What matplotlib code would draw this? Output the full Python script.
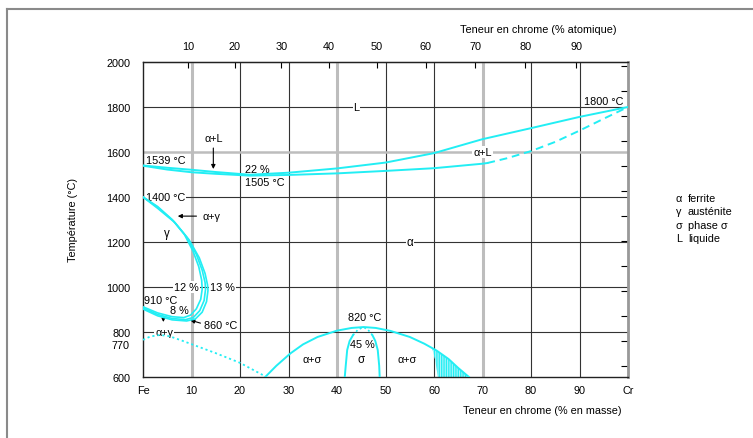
import numpy as np
import matplotlib
matplotlib.use('Agg')
import matplotlib.pyplot as plt
from matplotlib.lines import Line2D

plt.rcParams['font.family'] = ['Liberation Sans', 'DejaVu Sans']
plt.rcParams['hatch.linewidth'] = 0.9

CYAN = '#22EEF4'

# liquidus / solidus (mass % Cr, temperature in C)
liq_x = [0, 5, 10, 15, 22, 30, 40, 50, 60, 70, 80, 90, 100]
liq_t = [1540, 1530, 1521, 1511, 1499, 1508, 1527, 1553, 1595, 1657, 1706, 1756, 1800]
sol_x = [0, 5, 10, 15, 22, 30, 40, 50, 60, 70, 71]
sol_t = [1539, 1522, 1510, 1503, 1495, 1498, 1505, 1516, 1528, 1548, 1551]
sol_dash_x = [71, 75, 80, 85, 90, 95, 100]
sol_dash_t = [1551, 1572, 1604, 1645, 1695, 1748, 1800]

# gamma loop boundaries
g1_x = [0, 3, 6, 8.5, 10.3, 11.5, 12.1, 12.2, 11.9, 11.0, 9.8, 8.4, 6.0, 3.0, 0]
g1_t = [1400, 1358, 1300, 1235, 1160, 1090, 1030, 990, 945, 903, 875, 864, 868, 885, 912]
g2_x = [0, 3, 6.3, 9.0, 11.0, 12.2, 12.8, 12.9, 12.6, 11.7, 10.4, 8.8, 6.0, 3.0, 0]
g2_t = [1400, 1354, 1293, 1222, 1145, 1075, 1020, 990, 940, 895, 865, 855, 860, 878, 907]
g3_x = [0, 3, 6.6, 9.5, 11.6, 12.8, 13.3, 13.4, 13.1, 12.2, 10.8, 9.0, 6.0, 3.0, 0]
g3_t = [1400, 1350, 1286, 1210, 1130, 1060, 1010, 985, 935, 888, 858, 849, 854, 872, 902]

# Curie line (dotted)
curie_x = [0, 1.5, 3.5, 5.5, 8, 10, 15, 20, 25.2]
curie_t = [765, 780, 787, 781, 762, 746, 706, 663, 603]

# sigma domain
dome_x = [25.2, 27.5, 30.4, 33, 36, 40, 43, 45.5, 48, 51, 55, 58, 60.5, 63, 65, 67.2]
dome_t = [600, 650, 705, 745, 778, 806, 818, 822, 818, 805, 778, 748, 718, 680, 640, 600]
sl_x = [41.6, 41.8, 42.1, 42.6, 43.3]
sl_t = [600, 650, 720, 760, 786]
sl_dot_x = [43.3, 44.3, 45.3]
sl_dot_t = [786, 810, 820]
sr_x = [48.8, 48.7, 48.4, 47.9, 47.3]
sr_t = [600, 650, 720, 760, 786]
sr_dot_x = [47.3, 46.4, 45.6]
sr_dot_t = [786, 810, 820]
hatch_x = [59.6, 60.5, 63, 65, 67.2, 60.8, 60.2]
hatch_t = [730, 718, 680, 640, 600, 600, 680]

y_ticks = [600, 800, 1000, 1200, 1400, 1600, 1800, 2000]
x_ticks = [0, 10, 20, 30, 40, 50, 60, 70, 80, 90, 100]
x_labels = ['Fe', '10', '20', '30', '40', '50', '60', '70', '80', '90', 'Cr']
at_ticks = [10, 20, 30, 40, 50, 60, 70, 80, 90]

fig = plt.figure(figsize=(7.53, 4.39), dpi=100)
ax = fig.add_axes([143/753, 1-378/439, 485/753, 315/439])
ax.set_xlim(0, 100)
ax.set_ylim(600, 2000)

# grid drawn by hand (some lines gray and thicker)
for gx in range(10, 100, 10):
    if gx in (10, 40, 70):
        ax.axvline(gx, color='#bdbdbd', lw=2.2, zorder=1)
    else:
        ax.axvline(gx, color='#333333', lw=0.8, zorder=1)
for gy in range(800, 2000, 200):
    if gy == 1600:
        ax.axhline(gy, color='#bdbdbd', lw=1.8, zorder=1)
    else:
        ax.axhline(gy, color='#333333', lw=0.8, zorder=1)

for s in ['left', 'top', 'bottom']:
    ax.spines[s].set_linewidth(1.0)
    ax.spines[s].set_color('#222222')
ax.spines['right'].set_linewidth(2.0)
ax.spines['right'].set_color('#999999')

fs_tick = 7.8
ax.set_yticks(y_ticks)
ax.set_yticklabels([str(v) for v in y_ticks])
ax.set_xticks(x_ticks)
ax.set_xticklabels(x_labels)
ax.tick_params(axis='y', length=0, pad=9, labelsize=fs_tick)
ax.tick_params(axis='x', length=0, pad=5.5, labelsize=fs_tick)
# 770 is written a bit below its true place, as in the source figure
ax.text(-0.027, 744, '770', transform=ax.get_yaxis_transform(), fontsize=fs_tick,
        ha='right', va='center')

# top axis: atomic percent
def m2a(w):
    w = np.asarray(w, dtype=float)
    return 100 * (w / 52.0) / (w / 52.0 + (100 - w) / 55.85)

def a2m(a):
    a = np.asarray(a, dtype=float)
    return 100 * 52.0 * a / (52.0 * a + 55.85 * (100 - a))

top = ax.secondary_xaxis('top', functions=(m2a, a2m))
top.set_xticks(at_ticks)
top.tick_params(direction='in', length=4, width=0.8, pad=8, labelsize=fs_tick)

# right axis: Fahrenheit ticks, no labels
right = ax.secondary_yaxis('right', functions=(lambda c: c * 9 / 5 + 32, lambda f: (f - 32) * 5 / 9))
right.set_yticks(list(range(1200, 3800, 200)))
right.set_yticklabels([])
right.tick_params(direction='in', length=5, width=0.8)

lw = 1.4
zc = 5
ax.plot(liq_x, liq_t, color=CYAN, lw=lw, zorder=zc)
ax.plot(sol_x, sol_t, color=CYAN, lw=lw, zorder=zc)
ax.plot(sol_dash_x, sol_dash_t, color=CYAN, lw=lw, ls=(0, (4, 2.5)), zorder=zc)
for gx_, gt_ in [(g1_x, g1_t), (g2_x, g2_t), (g3_x, g3_t)]:
    ax.plot(gx_, gt_, color=CYAN, lw=1.2, zorder=zc)
ax.plot(curie_x, curie_t, color=CYAN, lw=1.3, ls=(0, (1.2, 1.6)), zorder=zc)
ax.plot(dome_x, dome_t, color=CYAN, lw=lw, zorder=zc)
ax.plot(sl_x, sl_t, color=CYAN, lw=lw, zorder=zc)
ax.plot(sl_dot_x, sl_dot_t, color=CYAN, lw=1.2, ls=(0, (1.2, 1.6)), zorder=zc)
ax.plot(sr_x, sr_t, color=CYAN, lw=lw, zorder=zc)
ax.plot(sr_dot_x, sr_dot_t, color=CYAN, lw=1.2, ls=(0, (1.2, 1.6)), zorder=zc)
ax.fill(hatch_x, hatch_t, facecolor='#a8f6fa', edgecolor=CYAN, hatch='|||||||', lw=0, zorder=2)

fs = 7.8
wb = dict(facecolor='white', edgecolor='none', pad=0.6)
arr = dict(arrowstyle='-|>', color='black', lw=0.8, mutation_scale=6)
ax.text(44, 1800, 'L', fontsize=fs, ha='center', va='center', bbox=wb, zorder=4)
ax.text(99, 1826, '1800 °C', fontsize=fs, ha='right', va='center', zorder=4)
ax.text(14.5, 1660, 'α+L', fontsize=fs, ha='center', va='center', zorder=4)
ax.annotate('', xy=(14.5, 1512), xytext=(14.5, 1630), arrowprops=arr, zorder=4)
ax.text(70, 1600, 'α+L', fontsize=fs, ha='center', va='center', bbox=wb, zorder=4)
ax.text(0.6, 1566, '1539 °C', fontsize=fs, ha='left', va='center', zorder=4)
ax.text(21.1, 1523, '22 %', fontsize=fs, ha='left', va='center', zorder=4)
ax.text(21.1, 1465, '1505 °C', fontsize=fs, ha='left', va='center', zorder=4)
ax.text(0.6, 1400, '1400 °C', fontsize=fs, ha='left', va='center', bbox=wb, zorder=4)
ax.text(12.2, 1315, 'α+γ', fontsize=fs, ha='left', va='center', zorder=4)
ax.annotate('', xy=(6.6, 1315), xytext=(11.6, 1315), arrowprops=arr, zorder=4)
ax.text(5, 1240, 'γ', fontsize=fs + 0.5, ha='center', va='center', zorder=4)
ax.text(55, 1200, 'α', fontsize=fs + 0.5, ha='center', va='center', bbox=wb, zorder=4)
ax.text(9.0, 1000, '12 %', fontsize=fs, ha='center', va='center', bbox=wb, zorder=4)
ax.text(16.4, 1000, '13 %', fontsize=fs, ha='center', va='center', bbox=wb, zorder=4)
ax.text(0.3, 940, '910 °C', fontsize=fs, ha='left', va='center', zorder=4)
ax.text(7.6, 898, '8 %', fontsize=fs, ha='center', va='center', zorder=4)
ax.text(12.6, 832, '860 °C', fontsize=fs, ha='left', va='center', zorder=4)
ax.annotate('', xy=(9.2, 856), xytext=(12.4, 836), arrowprops=arr, zorder=4)
ax.text(4.4, 802, 'α+γ', fontsize=fs, ha='center', va='center', bbox=wb, zorder=4)
ax.annotate('', xy=(4.2, 832), xytext=(4.2, 872),
            arrowprops=dict(arrowstyle='-|>', color='black', lw=0.8, mutation_scale=5), zorder=4)
ax.text(45.7, 866, '820 °C', fontsize=fs, ha='center', va='center', zorder=4)
ax.text(45.3, 748, '45 %', fontsize=fs, ha='center', va='center', zorder=4)
ax.text(34.8, 680, 'α+σ', fontsize=fs, ha='center', va='center', zorder=4)
ax.text(45.0, 680, 'σ', fontsize=fs + 0.5, ha='center', va='center', zorder=4)
ax.text(54.5, 680, 'α+σ', fontsize=fs, ha='center', va='center', zorder=4)

# axis titles
fig.text(460/753, 1-30/439, 'Teneur en chrome (% atomique)', fontsize=fs, ha='left', va='center')
fig.text(463/753, 1-411/439, 'Teneur en chrome (% en masse)', fontsize=fs, ha='left', va='center')
fig.text(73/753, 1-220/439, 'Température (°C)', fontsize=fs, ha='center', va='center', rotation=90)

# legend text
legend_sym = ['α', 'γ', 'σ', 'L']
legend_txt = ['ferrite', 'austénite', 'phase σ', 'liquide']
for i, (sy, tx) in enumerate(zip(legend_sym, legend_txt)):
    yy = 1 - (199 + i * 13.3) / 439
    fig.text(676/753, yy, sy, fontsize=fs, ha='left', va='center')
    fig.text(688/753, yy, tx, fontsize=fs, ha='left', va='center')

# outer frame
fig.add_artist(Line2D([7/753, 1], [1-10/439, 1-10/439], color='#8a8a8a', lw=1.5))
fig.add_artist(Line2D([7/753, 7/753], [0, 1-10/439], color='#8a8a8a', lw=1.5))

fig.savefig('out.png', dpi=100)
